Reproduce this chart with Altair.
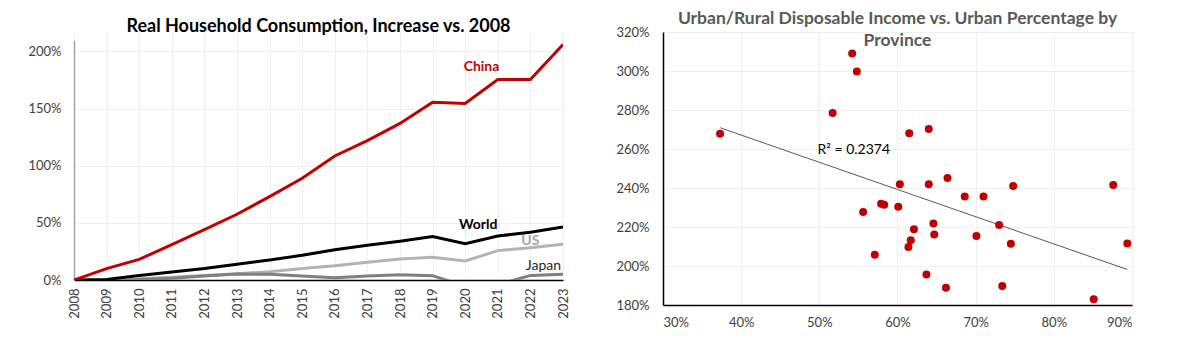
import altair as alt
import pandas as pd

# ---------------- Left chart data ----------------
years = list(range(2008, 2024))
china = [0.00, 0.10, 0.18, 0.31, 0.44, 0.575, 0.73, 0.89, 1.085, 1.22, 1.37, 1.555, 1.545, 1.755, 1.755, 2.06]
world = [0.00, 0.005, 0.04, 0.07, 0.10, 0.137, 0.175, 0.216, 0.265, 0.304, 0.339, 0.38, 0.318, 0.385, 0.417, 0.464]
us = [0.00, -0.013, 0.01, 0.025, 0.04, 0.055, 0.073, 0.10, 0.125, 0.155, 0.184, 0.20, 0.166, 0.257, 0.283, 0.312]
japan = [0.00, -0.01, 0.005, 0.015, 0.035, 0.052, 0.05, 0.035, 0.02, 0.035, 0.045, 0.038, -0.055, -0.04, 0.04, 0.05]

series_names = ["US", "Japan", "World", "China"]
series_colors = ["#b3b3b3", "#7f7f7f", "#000000", "#c00000"]
series_values = [us, japan, world, china]

label_text = ["China", "World", "US", "Japan"]
label_year = [2020.5, 2020.4, 2022.0, 2022.4]
label_value = [1.86, 0.48, 0.34, 0.12]
label_color = ["#c00000", "#000000", "#a6a6a6", "#262626"]
label_bold = [True, True, True, False]

# ---------------- Right chart data ----------------
urban_pct = [0.373, 0.542, 0.548, 0.517, 0.615, 0.640, 0.664, 0.603, 0.640, 0.748,
             0.876, 0.686, 0.710, 0.579, 0.583, 0.601, 0.556, 0.646, 0.730, 0.621,
             0.647, 0.701, 0.617, 0.745, 0.894, 0.614, 0.571, 0.637, 0.662, 0.734, 0.851]
income_ratio = [2.678, 3.09, 2.998, 2.785, 2.681, 2.703, 2.451, 2.419, 2.419, 2.41,
                2.415, 2.356, 2.356, 2.319, 2.314, 2.304, 2.277, 2.218, 2.21, 2.189,
                2.162, 2.154, 2.132, 2.114, 2.115, 2.098, 2.058, 1.957, 1.888, 1.898, 1.829]
r2_label = "R² = 0.2374"
r2_x = 0.544
r2_y = 2.593

FONT = "Lato"

# ---------------- Build left ----------------
rows = []
for name, color, vals in zip(series_names, series_colors, series_values):
    for y, v in zip(years, vals):
        rows.append({"year": y, "value": v, "series": name, "color": color})
line_df = pd.DataFrame(rows)

xscale = alt.Scale(domain=[2008, 2023], nice=False)
yscale = alt.Scale(domain=[0, 2.1], nice=False, range=[248, 8])

lines = alt.Chart(line_df).mark_line(strokeWidth=3, clip=True).encode(
    x=alt.X("year:Q", scale=xscale,
            axis=alt.Axis(title=None, values=years, tickCount=40, format="d", labelAngle=270,
                          labelOverlap=False,
                          grid=True, gridColor="#efefef", tickSize=0, labelPadding=8,
                          domainColor="#000000", domainWidth=1.5, labelFontSize=13,
                          labelColor="#404040")),
    y=alt.Y("value:Q", scale=yscale,
            axis=alt.Axis(title=None, values=[0, 0.5, 1.0, 1.5, 2.0], tickCount=40, format=".0%",
                          labelOverlap=False,
                          grid=True, gridColor="#efefef", tickSize=0, labelPadding=13,
                          domainColor="#a6a6a6", domainWidth=1.5, labelFontSize=13,
                          labelColor="#404040")),
    color=alt.Color("color:N", scale=None),
    detail="series:N",
)

lab_df = pd.DataFrame({"year": label_year, "value": label_value, "text": label_text,
                       "color": label_color, "bold": label_bold})

lab_bold = alt.Chart(lab_df).transform_filter("datum.bold").mark_text(
    font=FONT, fontSize=14, fontWeight="bold").encode(
    x=alt.X("year:Q", scale=xscale), y=alt.Y("value:Q", scale=yscale),
    text="text:N", color=alt.Color("color:N", scale=None))
lab_norm = alt.Chart(lab_df).transform_filter("!datum.bold").mark_text(
    font=FONT, fontSize=14).encode(
    x=alt.X("year:Q", scale=xscale), y=alt.Y("value:Q", scale=yscale),
    text="text:N", color=alt.Color("color:N", scale=None))

left = alt.layer(lines, lab_bold, lab_norm).properties(
    width=489, height=248,
    title=alt.TitleParams("Real Household Consumption, Increase vs. 2008", font=FONT,
                          fontSize=18, fontWeight="bold", color="#000000",
                          anchor="middle", frame="group", offset=-4),
)

# ---------------- Build right ----------------
sc_df = pd.DataFrame({"urban": urban_pct, "ratio": income_ratio})
xs = alt.Scale(domain=[0.3, 0.9], nice=False)
ys = alt.Scale(domain=[1.8, 3.2], nice=False)

points = alt.Chart(sc_df).mark_circle(size=64, opacity=1, color="#c00000").encode(
    x=alt.X("urban:Q", scale=xs,
            axis=alt.Axis(title=None, values=[0.3, 0.4, 0.5, 0.6, 0.7, 0.8, 0.9], tickCount=40,
                          format=".0%", labelOverlap=False,
                          grid=True, gridColor="#efefef", tickSize=0, labelPadding=11,
                          domainColor="#000000", domainWidth=1.5, labelFontSize=13,
                          labelColor="#404040")),
    y=alt.Y("ratio:Q", scale=ys,
            axis=alt.Axis(title=None, values=[1.8, 2.0, 2.2, 2.4, 2.6, 2.8, 3.0, 3.2], tickCount=40,
                          format=".0%", labelOverlap=False,
                          grid=True, gridColor="#efefef", tickSize=0, labelPadding=14,
                          domainColor="#000000", domainWidth=1.5, labelFontSize=13,
                          labelColor="#404040")),
)

trend = alt.Chart(sc_df).transform_regression("urban", "ratio").mark_line(
    color="#595959", strokeWidth=1).encode(
    x=alt.X("urban:Q", scale=xs), y=alt.Y("ratio:Q", scale=ys))

r2_df = pd.DataFrame({"urban": [r2_x], "ratio": [r2_y], "text": [r2_label]})
r2 = alt.Chart(r2_df).mark_text(font=FONT, fontSize=14, color="#000000").encode(
    x=alt.X("urban:Q", scale=xs), y=alt.Y("ratio:Q", scale=ys), text="text:N")

right = alt.layer(trend, points, r2).properties(
    width=469, height=273,
    title=alt.TitleParams(["Urban/Rural Disposable Income vs. Urban Percentage by", "Province"],
                          font=FONT, fontSize=17.5, fontWeight="bold", color="#595959",
                          anchor="middle", frame="group", offset=-23, lineHeight=22),
)

chart = alt.hconcat(left, right, spacing=100, bounds="flush").properties(
    padding={"left": 27, "top": 9, "right": 5, "bottom": 5},
    background="white",
).configure_view(stroke=None).configure_axis(labelFont=FONT)

chart.save("out.html", embed_options={"renderer": "svg", "actions": False})
